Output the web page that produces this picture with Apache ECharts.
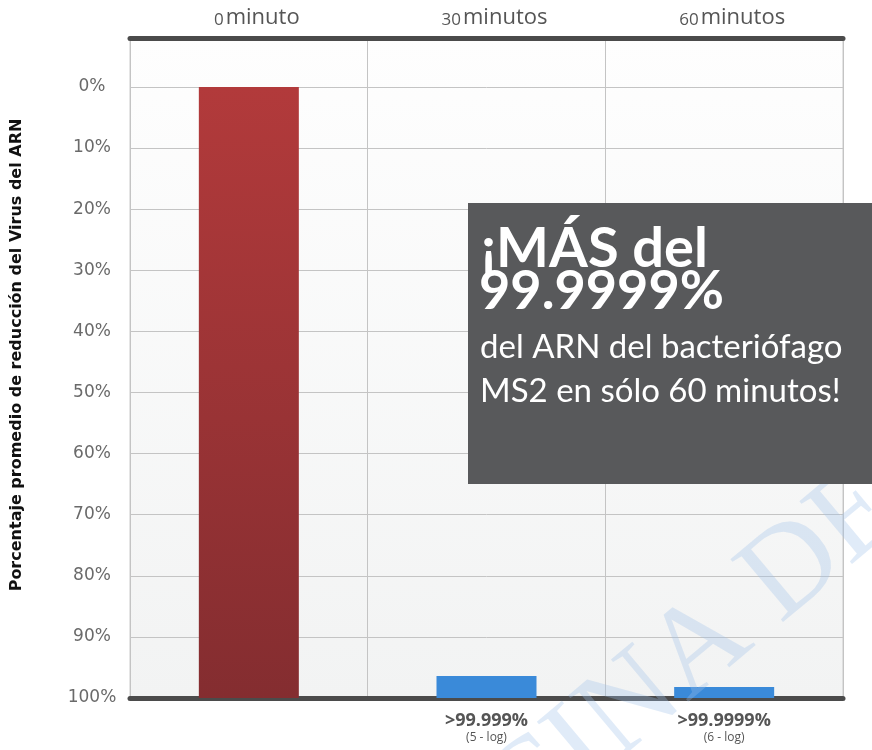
<!DOCTYPE html>
<html>
<head>
<meta charset="utf-8">
<script src="https://cdn.jsdelivr.net/npm/echarts@6/dist/echarts.min.js"></script>
<style>
  html, body { margin: 0; padding: 0; background: #fff; }
  #chart { width: 872px; height: 750px; }
</style>
</head>
<body>
<div id="chart"></div>
<script>
// tiempos de exposición
const categorias = ['0minuto', '30 minutos', '60minutos']
const numeros = ['0', '30', '60']
const unidades = ['minuto', 'minutos', 'minutos']
// porcentaje de reducción (eje invertido: 0% arriba, 100% abajo)
const reduccion = [0, 96.4, 98.2]
const etiquetasAbajo = ['', '>99.999%', '>99.9999%']
const logs = ['', '(5 - log)', '(6 - log)']
const ticksY = [0, 10, 20, 30, 40, 50, 60, 70, 80, 90, 100]

const chart = echarts.init(document.getElementById('chart'))

const rojo = new echarts.graphic.LinearGradient(0, 0, 0, 1, [
  { offset: 0, color: '#b23a3b' },
  { offset: 1, color: '#842d30' }
])

chart.setOption({
  animation: false,
  grid: {
    left: 130,
    right: 29,
    top: 38,
    bottom: 52,
    show: true,
    borderColor: '#cacaca',
    borderWidth: 1,
    backgroundColor: new echarts.graphic.LinearGradient(0, 0, 0, 1, [
      { offset: 0, color: '#fefefe' },
      { offset: 1, color: '#f2f3f3' }
    ])
  },
  xAxis: [
    {
      type: 'category',
      position: 'bottom',
      data: categorias,
      axisLine: { lineStyle: { color: '#4b4b4b', width: 5 } },
      axisTick: { show: false },
      splitLine: { show: true, lineStyle: { color: '#c4c4c4', width: 1 } },
      axisLabel: {
        margin: 13,
        formatter: (v, i) => etiquetasAbajo[i] ? '{b|' + etiquetasAbajo[i] + '}\n{s|' + logs[i] + '}' : '',
        rich: {
          b: { fontFamily: 'Open Sans', fontWeight: 'bold', fontSize: 18, color: '#555', lineHeight: 20 },
          s: { fontFamily: 'Open Sans', fontSize: 12, color: '#555', lineHeight: 14 }
        }
      }
    },
    {
      type: 'category',
      position: 'top',
      data: categorias,
      axisLine: { lineStyle: { color: '#4b4b4b', width: 5 } },
      axisTick: { show: false },
      axisLabel: {
        margin: 9,
        padding: [0, 0, 0, 16],
        formatter: (v, i) => '{n|' + numeros[i] + '}{u|' + unidades[i] + '}',
        rich: {
          n: { fontFamily: 'Open Sans', fontSize: 17, color: '#555', verticalAlign: 'bottom' },
          u: { fontFamily: 'Open Sans', fontSize: 22, color: '#555', padding: [0, 0, 0, 2] }
        }
      }
    }
  ],
  yAxis: {
    type: 'value',
    min: 0,
    max: 108,
    interval: 10,
    axisLine: { show: false },
    axisTick: { show: false },
    splitLine: { lineStyle: { color: '#c4c4c4', width: 1 } },
    axisLabel: {
      margin: 38,
      align: 'center',
      fontFamily: 'DejaVu Sans',
      fontSize: 17,
      color: '#6a6a6a',
      formatter: v => ticksY.indexOf(v) < 0 ? '' : (100 - v) + '%'
    }
  },
  series: [
    {
      type: 'bar',
      barWidth: 100,
      data: reduccion.map((r, i) => ({
        value: 100 - r,
        itemStyle: { color: i === 0 ? rojo : '#3a8ad9' }
      }))
    }
  ],
  graphic: [
    {
      type: 'text',
      x: 17,
      y: 355,
      rotation: Math.PI / 2,
      style: {
        text: 'Porcentaje promedio de reducción del Virus del ARN',
        font: 'bold 16px "DejaVu Sans"',
        fill: '#111',
        align: 'center',
        verticalAlign: 'middle'
      }
    },
    {
      // marca de agua
      type: 'text',
      x: 387,
      y: 993,
      rotation: 40 * Math.PI / 180,
      z: 50,
      silent: true,
      style: {
        text: 'OFICINA DE',
        font: '125px "Liberation Serif"',
        fill: 'rgba(160, 194, 232, 0.32)',
        align: 'left',
        verticalAlign: 'bottom'
      }
    },
    {
      type: 'rect',
      z: 100,
      shape: { x: 468, y: 203, width: 404, height: 281 },
      style: { fill: '#58595b' }
    },
    {
      type: 'text',
      z: 101,
      x: 481,
      y: 249,
      style: { text: '¡MÁS del', font: 'bold 56px Lato', fill: '#fff', verticalAlign: 'middle' }
    },
    {
      type: 'text',
      z: 101,
      x: 479,
      y: 292,
      style: { text: '99.9999%', font: 'bold 54px Lato', fill: '#fff', verticalAlign: 'middle' }
    },
    {
      type: 'text',
      z: 101,
      x: 480,
      y: 347,
      style: { text: 'del ARN del bacteriófago', font: '33px Lato', fill: '#fff', verticalAlign: 'middle' }
    },
    {
      type: 'text',
      z: 101,
      x: 480,
      y: 391,
      style: { text: 'MS2 en sólo 60 minutos!', font: '33px Lato', fill: '#fff', verticalAlign: 'middle' }
    }
  ]
})
</script>
</body>
</html>
